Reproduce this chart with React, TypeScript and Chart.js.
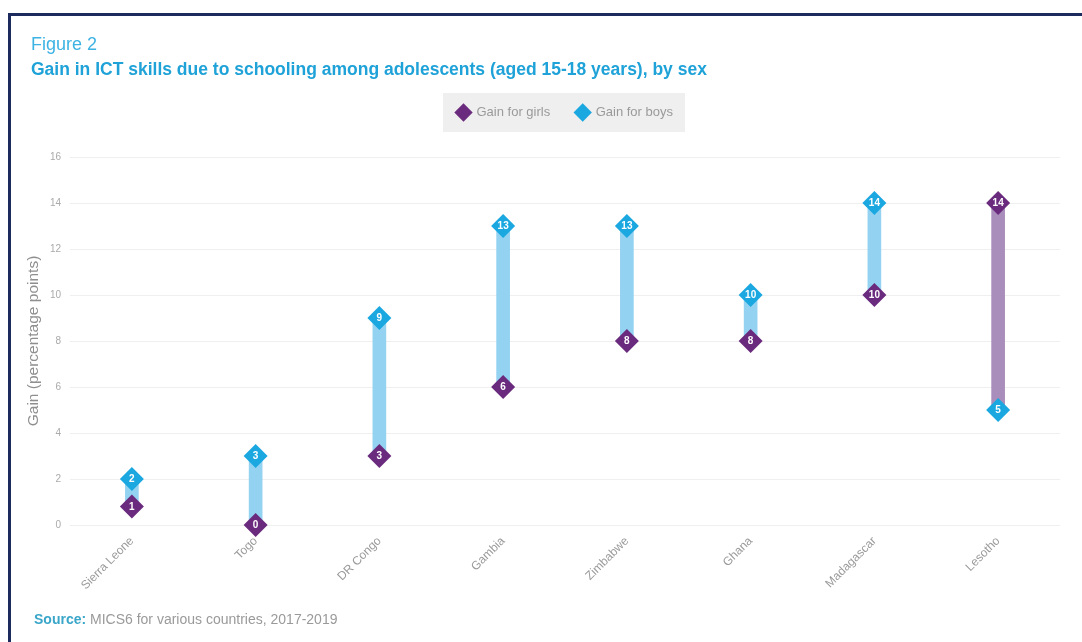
import React, { useEffect, useRef } from "react";
import { Chart, registerables } from "chart.js";

Chart.register(...registerables);

// ---- Data ----
const countries = [
  "Sierra Leone",
  "Togo",
  "DR Congo",
  "Gambia",
  "Zimbabwe",
  "Ghana",
  "Madagascar",
  "Lesotho",
];
const girlsGain = [0.8, 0, 3, 6, 8, 8, 10, 14];
const boysGain = [2, 3, 9, 13, 13, 10, 14, 5];
const girlsLabels = ["1", "0", "3", "6", "8", "8", "10", "14"];
const boysLabels = ["2", "3", "9", "13", "13", "10", "14", "5"];
const yMin = 0;
const yMax = 16;
const yStep = 2;

// ---- Style ----
const PURPLE = "#6a2b7e";
const BLUE = "#1ba8e0";
const BAR_BLUE = "#93d2f1";
const BAR_PURPLE = "#a98dbb";
const FONT = "Arial, 'Liberation Sans', sans-serif";

const valueLabelsPlugin = {
  id: "valueLabels",
  afterDatasetsDraw(chart: any) {
    const ctx = chart.ctx;
    const sets: [number, string[]][] = [
      [1, boysLabels],
      [0, girlsLabels],
    ];
    ctx.save();
    ctx.font = `bold 10px ${FONT}`;
    ctx.fillStyle = "#ffffff";
    ctx.textAlign = "center";
    ctx.textBaseline = "middle";
    for (const [idx, labels] of sets) {
      const meta = chart.getDatasetMeta(idx);
      meta.data.forEach((pt: any, i: number) => {
        ctx.fillText(labels[i], pt.x, pt.y + 0.5);
      });
    }
    ctx.restore();
  },
};

const legendBoxPlugin = {
  id: "legendBox",
  beforeInit(chart: any) {
    const legend = chart.legend;
    if (legend) {
      const origFit = legend.fit;
      legend.fit = function () {
        origFit.call(this);
        this.height = 77;
      };
    }
  },
  beforeDraw(chart: any) {
    const legend = chart.legend;
    if (!legend || !legend.legendHitBoxes || !legend.legendHitBoxes.length) return;
    const boxes = legend.legendHitBoxes;
    let l = Infinity, r = -Infinity, t = Infinity, b = -Infinity;
    boxes.forEach((h: any) => {
      l = Math.min(l, h.left);
      r = Math.max(r, h.left + h.width);
      t = Math.min(t, h.top);
      b = Math.max(b, h.top + h.height);
    });
    const ctx = chart.ctx;
    ctx.save();
    ctx.fillStyle = "#efefef";
    ctx.fillRect(l - 14, t - 13, r - l + 26, b - t + 26);
    ctx.restore();
  },
};

export default function App() {
  const canvasRef = useRef<HTMLCanvasElement | null>(null);

  useEffect(() => {
    document.body.style.margin = "0";
    const canvas = canvasRef.current;
    if (!canvas) return;
    const chart = new Chart(canvas, {
      type: "bar",
      data: {
        labels: countries,
        datasets: [
          {
            type: "line",
            label: "Gain for girls",
            data: girlsGain,
            showLine: false,
            pointStyle: "rectRot",
            pointRadius: 12,
            pointHoverRadius: 12,
            pointBackgroundColor: PURPLE,
            pointBorderColor: PURPLE,
            pointBorderWidth: 0,
            backgroundColor: PURPLE,
            borderColor: PURPLE,
            clip: false,
            order: 1,
          } as any,
          {
            type: "line",
            label: "Gain for boys",
            data: boysGain,
            showLine: false,
            pointStyle: "rectRot",
            pointRadius: 12,
            pointHoverRadius: 12,
            pointBackgroundColor: BLUE,
            pointBorderColor: BLUE,
            pointBorderWidth: 0,
            backgroundColor: BLUE,
            borderColor: BLUE,
            clip: false,
            order: 2,
          } as any,
          {
            type: "bar",
            label: "range",
            data: countries.map((_, i) => [girlsGain[i], boysGain[i]]),
            backgroundColor: countries.map((_, i) =>
              girlsGain[i] > boysGain[i] ? BAR_PURPLE : BAR_BLUE
            ),
            borderWidth: 0,
            barThickness: 13,
            order: 3,
          } as any,
        ],
      },
      options: {
        responsive: false,
        animation: false,
        layout: { padding: { top: 80, bottom: 27, left: 0, right: 22 } },
        plugins: {
          tooltip: { enabled: false },
          title: { display: false },
          legend: {
            display: true,
            position: "top",
            fullSize: false,
            align: "center",
            labels: {
              usePointStyle: true,
              pointStyle: "rectRot",
              padding: 26,
              color: "#9a9a9a",
              font: { family: FONT, size: 13 },
              filter: (item: any) => item.datasetIndex !== 2,
            },
          },
        },
        scales: {
          x: {
            offset: true,
            grid: { display: false, drawTicks: false },
            border: { display: false },
            ticks: {
              color: "#9a9a9a",
              font: { family: FONT, size: 12 },
              maxRotation: 45,
              minRotation: 45,
              padding: 9,
              autoSkip: false,
            },
            afterFit: (scale: any) => {
              scale.height = 90;
            },
          },
          y: {
            min: yMin,
            max: yMax,
            grid: { color: "#efefef", drawTicks: false, lineWidth: 1 },
            border: { display: false },
            ticks: {
              stepSize: yStep,
              color: "#aaaaaa",
              font: { family: FONT, size: 10 },
              padding: 9,
            },
            title: {
              display: true,
              text: "Gain (percentage points)",
              color: "#8f8f8f",
              font: { family: FONT, size: 15.5 },
              padding: { top: 24, bottom: 0 },
            },
            afterFit: (scale: any) => {
              scale.width = 70;
            },
          },
        },
      },
      plugins: [valueLabelsPlugin, legendBoxPlugin],
    });
    return () => chart.destroy();
  }, []);

  return (
    <div
      style={{
        position: "fixed",
        left: 0,
        top: 0,
        width: 1082,
        height: 642,
        background: "#ffffff",
        overflow: "hidden",
        fontFamily: FONT,
      }}
    >
      <div
        style={{
          position: "absolute",
          left: 8,
          top: 13,
          width: 1082,
          height: 640,
          borderLeft: "3px solid #1d2a5e",
          borderTop: "3px solid #1d2a5e",
        }}
      />
      <canvas
        ref={canvasRef}
        width={1082}
        height={642}
        style={{ position: "absolute", left: 0, top: 0, width: 1082, height: 642 }}
      />
      <div
        style={{
          position: "absolute",
          left: 31,
          top: 34,
          fontSize: 18,
          color: "#3db3e4",
          lineHeight: "21px",
        }}
      >
        Figure 2
      </div>
      <div
        style={{
          position: "absolute",
          left: 31,
          top: 58,
          fontSize: 17.5,
          fontWeight: "bold",
          color: "#1ea2d8",
          lineHeight: "22px",
          whiteSpace: "nowrap",
        }}
      >
        Gain in ICT skills due to schooling among adolescents (aged 15-18 years), by sex
      </div>
      <div
        style={{
          position: "absolute",
          left: 34,
          top: 611,
          fontSize: 14,
          color: "#9a9a9a",
          lineHeight: "17px",
          whiteSpace: "nowrap",
        }}
      >
        <span style={{ fontWeight: "bold", color: "#3aa6c9" }}>Source:</span> MICS6 for
        various countries, 2017-2019
      </div>
    </div>
  );
}
